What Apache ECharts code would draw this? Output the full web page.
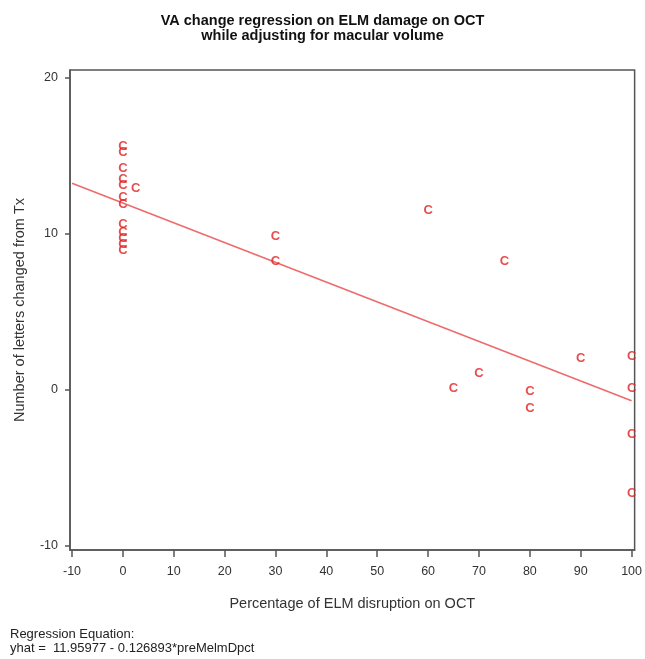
<!DOCTYPE html>
<html>
<head>
<meta charset="utf-8">
<script src="https://cdn.jsdelivr.net/npm/echarts@6/dist/echarts.min.js"></script>
<style>
html,body{margin:0;padding:0;background:#fff;}
#chart{width:645px;height:659px;}
</style>
</head>
<body>
<div id="chart"></div>
<script>
// ---- data ----
const titleLines = ['VA change regression on ELM damage on OCT', 'while adjusting for macular volume'];
const xName = 'Percentage of ELM disruption on OCT';
const yName = 'Number of letters changed from Tx';
const xTicks = [-10, 0, 10, 20, 30, 40, 50, 60, 70, 80, 90, 100];
const yTicks = [-10, 0, 10, 20];
const ptX = [0, 0, 0, 0, 0, 0, 0, 0, 0, 0, 0, 0, 2.5, 30, 30, 60, 65, 70, 75, 80, 80, 90, 100, 100, 100, 100];
const ptY = [15.6, 15.2, 14.2, 13.5, 13.1, 12.3, 11.9, 10.6, 10.1, 9.7, 9.3, 8.9, 12.9, 9.8, 8.2, 11.5, 0.1, 1.0, 8.2, -0.1, -1.2, 2.0, 2.1, 0.1, -2.9, -6.7];
const regX = [-10, 100];
const regY = [13.23, -0.73];
const footLines = ['Regression Equation:', 'yhat =  11.95977 - 0.126893*preMelmDpct'];

const points = ptX.map((x, i) => [x, ptY[i]]);
const regLine = regX.map((x, i) => [x, regY[i]]);

const chart = echarts.init(document.getElementById('chart'), null, {renderer: 'canvas'});
const axisColor = '#555';
const fam = 'Liberation Sans, Arial, sans-serif';
const labelFont = {color: '#333', fontSize: 12.5, fontFamily: fam};

chart.setOption({
  animation: false,
  backgroundColor: '#fff',
  title: {
    text: titleLines.join('\n'),
    left: 'center',
    top: 9,
    textStyle: {fontSize: 14.5, fontWeight: 'bold', color: '#111', lineHeight: 14.5, fontFamily: fam}
  },
  grid: {
    left: 70, right: 10, top: 70, bottom: 109,
    show: true, borderColor: axisColor, borderWidth: 1.5, backgroundColor: '#fff'
  },
  xAxis: {
    type: 'value', min: -10.4, max: 100.6,
    name: xName, nameLocation: 'middle', nameGap: 46,
    nameTextStyle: {color: '#333', fontSize: 14.5, fontFamily: fam},
    axisLine: {show: true, onZero: false, lineStyle: {color: axisColor, width: 1.5}},
    axisTick: {show: true, length: 7, inside: false, customValues: xTicks, lineStyle: {color: axisColor, width: 1.5}},
    axisLabel: Object.assign({customValues: xTicks, margin: 15}, labelFont),
    splitLine: {show: false}
  },
  yAxis: {
    type: 'value', min: -10.3, max: 20.5,
    name: yName, nameLocation: 'middle', nameGap: 43,
    nameTextStyle: {color: '#333', fontSize: 14.5, fontFamily: fam},
    axisLine: {show: true, onZero: false, lineStyle: {color: axisColor, width: 1.5}},
    axisTick: {show: true, length: 5, inside: false, customValues: yTicks, lineStyle: {color: axisColor, width: 1.5}},
    axisLabel: Object.assign({customValues: yTicks, margin: 12}, labelFont),
    splitLine: {show: false}
  },
  series: [
    {
      type: 'line',
      data: regLine,
      symbol: 'none',
      lineStyle: {color: '#ee6b6b', width: 1.6},
      z: 2
    },
    {
      type: 'scatter',
      data: points,
      symbol: 'circle',
      symbolSize: 2,
      itemStyle: {color: 'rgba(0,0,0,0)'},
      label: {
        show: true, position: 'inside', formatter: 'C',
        color: '#e0201f', fontSize: 13, fontWeight: 'bold',
        fontFamily: fam
      },
      labelLayout: {hideOverlap: false},
      z: 3
    }
  ],
  graphic: [
    {type: 'text', left: 10, top: 628, style: {text: footLines[0], fill: '#222', font: '13px Liberation Sans, Arial, sans-serif'}},
    {type: 'text', left: 10, top: 642, style: {text: footLines[1], fill: '#222', font: '13px Liberation Sans, Arial, sans-serif'}}
  ]
});
</script>
</body>
</html>
